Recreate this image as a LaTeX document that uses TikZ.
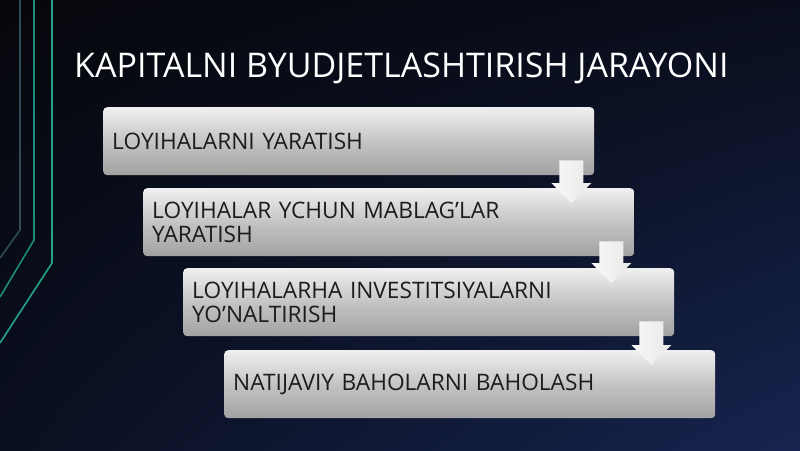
\documentclass[tikz,border=0pt]{standalone}
\usepackage{fontspec}
\setmainfont{Open Sans}
\usetikzlibrary{calc,shadings}
\definecolor{bgTL}{HTML}{06070C}
\definecolor{bgTR}{HTML}{0A0E1C}
\definecolor{bgBL}{HTML}{0A0F20}
\definecolor{bgBR}{HTML}{16244F}
\definecolor{lineA}{HTML}{2E4C54}
\definecolor{lineB}{HTML}{1E8C7B}
\definecolor{lineC}{HTML}{22A38A}
\definecolor{boxTop}{HTML}{F0F0F0}
\definecolor{boxMid}{HTML}{C4C4C4}
\definecolor{boxBot}{HTML}{A2A2A2}
\definecolor{boxText}{HTML}{1C1C1C}
\tikzset{
  stepbox/.style={draw=none, rounded corners=4pt, anchor=north west,
    minimum width=491pt, minimum height=68pt, inner xsep=9pt, inner ysep=0pt,
    text width=473pt, align=left, text=boxText,
    font=\fontsize{22.7}{23.5}\selectfont,
    top color=boxTop, bottom color=boxBot, middle color=boxMid},
  titletext/.style={text=white, anchor=base west, inner sep=0pt,
    font=\fontsize{34}{40}\selectfont},
  deco/.style={line width=1.6pt},
  blockarrow/.style={left color=white!95!gray, right color=white!82!gray, draw=none}
}
\newcommand{\flowarrow}[2]{%
  \path[blockarrow] let \p1=($(#1.south east)+(-23,0)$), \p2=(#2.north) in
    (\x1-12pt,\y1+15pt) -- (\x1+12pt,\y1+15pt) -- (\x1+12pt,\y2+5pt)
    -- (\x1+20pt,\y2+5pt) -- (\x1,\y2-15pt) -- (\x1-20pt,\y2+5pt)
    -- (\x1-12pt,\y2+5pt) -- cycle;}
\begin{document}
\begin{tikzpicture}[x=1pt,y=-1pt]
\useasboundingbox (0,0) rectangle (800,450);
\shade[upper left=bgTL, upper right=bgTR, lower left=bgBL, lower right=bgBR]
  (0,0) rectangle (800,450);
% decorative lines
\draw[deco, lineA] (20,-2) -- (20,230) -- (0,258);
\draw[deco, lineB] (34,-2) -- (34,240) -- (0,297);
\draw[deco, lineC] (52,-2) -- (52,263) -- (0,343);
% title
\node[titletext] (title) at (74,77) {KAPITALNI BYUDJETLASHTIRISH JARAYONI};
% boxes
\node[stepbox] (b1) at (103,107) {LOYIHALARNI YARATISH};
\node[stepbox] (b2) at (143,188) {LOYIHALAR YCHUN MABLAG’LAR\\YARATISH};
\node[stepbox] (b3) at (183,268) {LOYIHALARHA INVESTITSIYALARNI\\YO’NALTIRISH};
\node[stepbox] (b4) at (224,350) {NATIJAVIY BAHOLARNI BAHOLASH};
% arrows
\flowarrow{b1}{b2}
\flowarrow{b2}{b3}
\flowarrow{b3}{b4}
\end{tikzpicture}
\end{document}
